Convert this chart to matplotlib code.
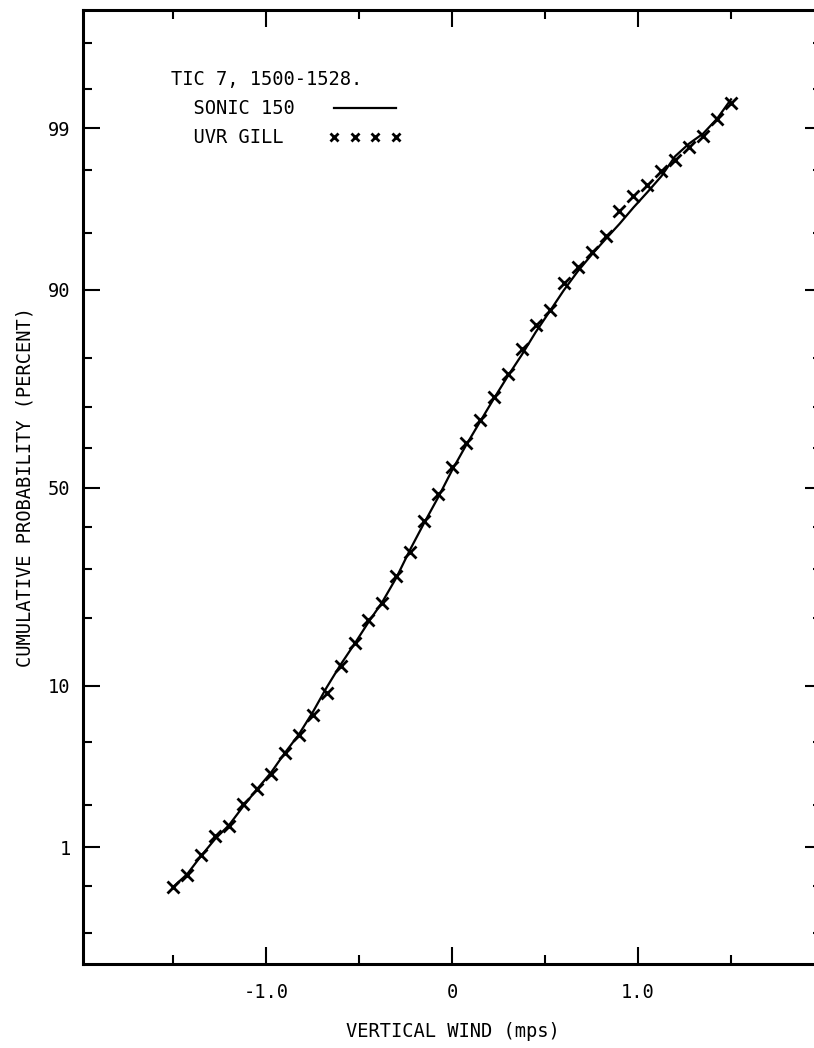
import numpy as np
import matplotlib
matplotlib.use("Agg")
import matplotlib.pyplot as plt
from matplotlib.ticker import FixedLocator, FixedFormatter, NullFormatter
from statistics import NormalDist

# vertical wind classes (mps)
wind = [-1.5 + 0.075 * i for i in range(41)]

# UVR Gill cumulative probability (percent)
gill = [0.49, 0.61, 0.88, 1.22, 1.43, 2.04, 2.57, 3.21, 4.32, 5.49,
        7.09, 9.23, 12.47, 15.79, 19.65, 22.84, 28.45, 33.93, 41.54, 48.45,
        55.40, 61.46, 67.01, 72.21, 76.97, 81.59, 85.29, 87.53, 90.77, 92.28,
        93.59, 94.79, 96.35, 97.02, 97.47, 97.96, 98.31, 98.63, 98.86, 99.15,
        99.36]

# Sonic 150 cumulative probability (percent)
sonic = [0.49, 0.62, 0.86, 1.15, 1.45, 1.95, 2.55, 3.25, 4.3, 5.5,
         7.3, 9.8, 12.6, 15.6, 19.2, 23.0, 28.0, 34.5, 41.0, 47.5,
         54.5, 60.8, 66.5, 71.8, 76.5, 80.5, 84.3, 87.3, 89.9, 91.9,
         93.4, 94.6, 95.6, 96.5, 97.2, 97.8, 98.4, 98.7, 98.9, 99.15,
         99.4]

yticks = [1, 10, 50, 90, 99]
yticklabels = ['1', '10', '50', '90', '99']
yminor = [0.2, 0.5, 2, 5, 20, 30, 40, 60, 70, 80, 95, 98, 99.5, 99.8]
xticks = [-1.0, 0.0, 1.0]
xticklabels = ['-1.0', '0', '1.0']
xminor = [-1.5, -0.5, 0.5, 1.5]

nd = NormalDist()


def fwd(p):
    p = np.clip(np.asarray(p, dtype=float), 1e-6, 100 - 1e-6)
    return np.vectorize(lambda v: nd.inv_cdf(v / 100.0), otypes=[float])(p)


def inv(z):
    z = np.asarray(z, dtype=float)
    return np.vectorize(lambda v: nd.cdf(v) * 100.0, otypes=[float])(z)


fs = 13.5
plt.rcParams.update({'font.family': 'DejaVu Sans Mono', 'font.size': fs})

fig = plt.figure(figsize=(8.14, 10.48), dpi=100)
ax = fig.add_axes((0.102, 0.0802, 0.908, 0.9103))

ax.plot(wind, sonic, color='black', lw=1.6, label='  SONIC 150')
ax.plot(wind, gill, ls='none', marker='x', ms=9, mew=2.0, color='black',
        label='  UVR GILL ')

ax.set_yscale('function', functions=(fwd, inv))
ax.set_ylim(0.103, 99.9)
ax.set_xlim(-1.985, 1.99)

ax.yaxis.set_major_locator(FixedLocator(yticks))
ax.yaxis.set_major_formatter(FixedFormatter(yticklabels))
ax.yaxis.set_minor_locator(FixedLocator(yminor))
ax.yaxis.set_minor_formatter(NullFormatter())
ax.xaxis.set_major_locator(FixedLocator(xticks))
ax.xaxis.set_major_formatter(FixedFormatter(xticklabels))
ax.xaxis.set_minor_locator(FixedLocator(xminor))

ax.tick_params(which='both', direction='in', top=True, right=True, width=1.5)
ax.tick_params(which='major', length=12)
ax.tick_params(which='minor', length=6.5)
ax.tick_params(axis='y', which='major', pad=9)
ax.tick_params(axis='x', which='major', pad=14)

for s in ax.spines.values():
    s.set_linewidth(2.2)

ax.set_xlabel('VERTICAL WIND (mps)', labelpad=14)
ax.set_ylabel('CUMULATIVE PROBABILITY (PERCENT)', labelpad=10)

leg = ax.legend(title='TIC 7, 1500-1528.', loc='upper left',
                bbox_to_anchor=(0.119, 0.937), frameon=False,
                markerfirst=False, numpoints=4, handlelength=3.9,
                handletextpad=1.8, labelspacing=0.54, markerscale=0.6,
                borderpad=0, borderaxespad=0, alignment='left',
                title_fontsize=fs)

fig.savefig('out.png', dpi=100, facecolor='white')
